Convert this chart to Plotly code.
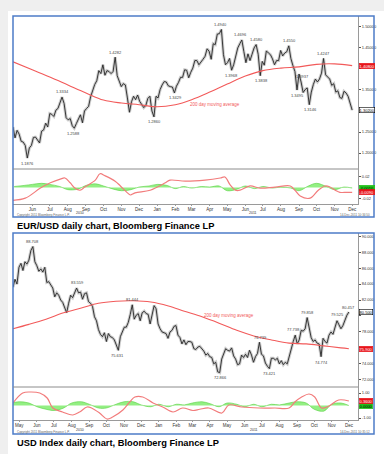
import pandas as pd
import plotly.graph_objects as go

W, H = 384, 454
def fx(p): return p / W
def fy(p): return 1 - p / H

# ---------------- EUR/USD (semi-weekly closes, May 13 2010 -> Dec 15 2011) -------------
eur_close = [
    1.262, 1.236, 1.254, 1.245, 1.228, 1.226,                          # May 10
    1.218, 1.188, 1.212, 1.218, 1.237, 1.238, 1.231, 1.224,            # Jun 10
    1.252, 1.255, 1.271, 1.262, 1.294, 1.292, 1.287, 1.302, 1.306,     # Jul 10
    1.318, 1.333, 1.318, 1.284, 1.279, 1.282, 1.265, 1.259, 1.270,     # Aug 10
    1.283, 1.291, 1.272, 1.300, 1.306, 1.311, 1.334, 1.349, 1.363,     # Sep 10
    1.372, 1.396, 1.389, 1.410, 1.385, 1.396, 1.394, 1.389, 1.394,     # Oct 10
    1.428, 1.384, 1.372, 1.358, 1.365, 1.362, 1.331, 1.297,            # Nov 10
    1.322, 1.335, 1.327, 1.338, 1.323, 1.315, 1.308, 1.313, 1.330,     # Dec 10
    1.335, 1.300, 1.286, 1.335, 1.331, 1.351, 1.362, 1.370, 1.369,     # Jan 11
    1.360, 1.358, 1.357, 1.343, 1.359, 1.368, 1.380, 1.380,            # Feb 11
    1.398, 1.397, 1.379, 1.392, 1.402, 1.420, 1.420, 1.410, 1.418,     # Mar 11
    1.423, 1.430, 1.448, 1.442, 1.423, 1.460, 1.458, 1.483,            # Apr 11
    1.484, 1.494, 1.434, 1.410, 1.415, 1.425, 1.397, 1.410, 1.430,     # May 11
    1.450, 1.460, 1.469, 1.441, 1.415, 1.436, 1.420, 1.435, 1.450,     # Jun 11
    1.458, 1.435, 1.384, 1.418, 1.409, 1.443, 1.438, 1.434, 1.424,     # Jul 11
    1.410, 1.420, 1.420, 1.444, 1.431, 1.438, 1.441, 1.455,            # Aug 11
    1.425, 1.408, 1.394, 1.350, 1.388, 1.369, 1.344, 1.351, 1.355,     # Sep 11
    1.315, 1.345, 1.363, 1.376, 1.369, 1.376, 1.390, 1.425, 1.386,     # Oct 11
    1.380, 1.376, 1.361, 1.365, 1.345, 1.348, 1.332, 1.330,            # Nov 11
    1.347, 1.343, 1.335, 1.316, 1.302,                                 # Dec 11
]
eur_start, eur_end = "2010-05-13", "2011-12-15"

eur_ma_dates = ["2010-05-13", "2010-06-15", "2010-07-15", "2010-08-15", "2010-09-15",
                "2010-10-15", "2010-11-15", "2010-12-15", "2011-01-15", "2011-02-15",
                "2011-03-15", "2011-04-15", "2011-05-15", "2011-06-15", "2011-07-15",
                "2011-08-15", "2011-09-15", "2011-10-15", "2011-11-15", "2011-12-15"]
eur_ma = [1.417, 1.398, 1.381, 1.362, 1.343, 1.326, 1.319, 1.315, 1.310, 1.315,
          1.327, 1.345, 1.364, 1.383, 1.396, 1.402, 1.405, 1.411, 1.412, 1.408]

eur_osc_dates = ["2010-05-13", "2010-06-03", "2010-06-29", "2010-07-16", "2010-08-02",
                 "2010-08-10", "2010-08-19", "2010-08-27", "2010-09-05", "2010-09-13",
                 "2010-10-01", "2010-10-09", "2010-10-18", "2010-11-04", "2010-11-13",
                 "2010-11-25", "2010-11-30", "2010-12-08", "2011-01-03", "2011-01-29",
                 "2011-02-06", "2011-03-04", "2011-04-07", "2011-05-03", "2011-05-11",
                 "2011-05-20", "2011-05-29", "2011-06-06", "2011-06-23", "2011-07-10",
                 "2011-08-05", "2011-08-31", "2011-09-08", "2011-09-17", "2011-10-04",
                 "2011-10-18", "2011-10-30", "2011-11-07", "2011-11-16", "2011-11-24",
                 "2011-12-06", "2011-12-15"]
eur_osc = [-0.024, -0.020, -0.001, 0.009, 0.016, 0.018, 0.009, -0.001, -0.005, 0.001,
           0.014, 0.026, 0.022, 0.012, 0.003, -0.010, -0.014, -0.010, -0.005, 0.009,
           0.014, 0.012, 0.014, 0.018, 0.020, 0.005, -0.005, -0.005, 0.003, -0.001,
           0.001, 0.003, -0.005, -0.016, -0.020, -0.005, 0.003, 0.001, -0.005, -0.009,
           -0.009, -0.009]
# semi-monthly histogram (1st & 15th), May 15 2010 -> Dec 15 2011
eur_hist = [0.002, 0.004, 0.006, 0.008, 0.006, 0.002, -0.004, -0.003, 0.004, 0.007,
            0.003, -0.003, -0.006, -0.004, 0.001, 0.003, 0.006, 0.004, -0.002, 0.002,
            -0.001, 0.002, 0.001, 0.003, -0.006, -0.003, 0.003, -0.002, 0.002, -0.001,
            0.001, -0.001, -0.006, 0.003, 0.008, 0.002, -0.004, 0.001, -0.001]

eur_lbl_dates = ["2010-06-07", "2010-08-06", "2010-08-24", "2010-11-04", "2011-01-10",
                 "2011-02-15", "2011-05-04", "2011-05-23", "2011-06-07", "2011-07-04",
                 "2011-07-12", "2011-08-29", "2011-09-21", "2011-09-12", "2011-10-04",
                 "2011-10-27"]
eur_lbl_text = ["1.1876", "1.3334", "1.2588", "1.4282", "1.2860", "1.3429", "1.4940",
                "1.3968", "1.4696", "1.4580", "1.3838", "1.4550", "1.3937", "1.3495",
                "1.3146", "1.4247"]
eur_lbl_pos = ["below", "above", "below", "above", "below", "below", "above", "below",
               "above", "above", "below", "above", "below", "below", "below", "above"]

eur_ticks = [1.20, 1.25, 1.30, 1.35, 1.40, 1.45, 1.50]

# ---------------- USD Index (semi-weekly closes, May 4 2010 -> Dec 15 2011) -------------
usd_close = [
    83.6, 84.6, 84.0, 86.1, 86.6, 85.7, 86.8, 86.5,                    # May 10
    87.0, 88.2, 88.7, 86.8, 86.3, 85.6, 85.9, 85.5, 86.1,              # Jun 10
    84.2, 84.3, 83.9, 83.5, 82.4, 82.9, 82.6, 82.0, 81.7,              # Jul 10
    80.9, 80.4, 81.6, 82.6, 82.3, 83.0, 83.5, 82.9, 83.0,              # Aug 10
    82.1, 82.8, 82.9, 81.8, 81.6, 81.2, 79.9, 79.4,                    # Sep 10
    78.3, 77.7, 77.4, 77.9, 76.8, 77.8, 77.4, 77.3, 77.0,              # Oct 10
    76.4, 75.7, 77.4, 77.9, 78.6, 78.6, 79.2, 80.2, 81.4,              # Nov 10
    79.6, 80.1, 80.3, 79.4, 80.4, 80.6, 80.3, 80.2, 79.0,              # Dec 10
    80.3, 81.3, 80.9, 79.0, 78.4, 78.0, 77.9, 77.8,                    # Jan 11
    77.2, 78.0, 78.2, 78.7, 78.8, 77.6, 77.3, 76.5,                    # Feb 11
    77.0, 76.4, 76.8, 76.8, 76.7, 75.9, 75.8, 76.1, 76.2,              # Mar 11
    75.9, 75.6, 75.1, 75.3, 74.9, 74.8, 74.0, 74.2, 73.0,              # Apr 11
    72.9, 74.6, 75.2, 75.9, 75.7, 75.6, 76.0, 75.0, 74.6,              # May 11
    73.9, 74.0, 75.1, 74.8, 75.2, 74.8, 75.7, 75.1,                    # Jun 11
    74.2, 74.9, 75.3, 76.7, 75.2, 75.0, 74.1, 73.7, 73.4,              # Jul 11
    74.7, 74.7, 74.5, 74.7, 74.0, 74.4, 73.9, 74.2, 74.0,              # Aug 11
    75.0, 75.9, 76.8, 77.6, 76.5, 77.0, 78.2, 78.1, 78.4,              # Sep 11
    79.8, 78.6, 77.3, 76.8, 77.0, 76.6, 76.5, 74.9,                    # Oct 11
    77.2, 76.8, 76.6, 77.6, 78.0, 77.7, 78.6, 79.4, 78.9,              # Nov 11
    78.4, 78.8, 79.5, 80.1, 80.5,                                      # Dec 11
]
usd_start, usd_end = "2010-05-04", "2011-12-15"

usd_ma_dates = ["2010-05-04", "2010-06-01", "2010-07-01", "2010-08-01", "2010-09-01",
                "2010-10-01", "2010-11-01", "2010-12-01", "2011-01-01", "2011-02-01",
                "2011-03-01", "2011-04-01", "2011-05-01", "2011-06-01", "2011-07-01",
                "2011-08-01", "2011-09-01", "2011-10-01", "2011-11-01", "2011-12-01",
                "2011-12-15"]
usd_ma = [78.4, 78.95, 79.6, 80.4, 81.0, 81.6, 81.85, 81.9, 81.75, 81.25,
          80.6, 79.9, 79.1, 78.2, 77.5, 77.0, 76.6, 76.5, 76.25, 76.0, 75.9]

usd_osc_dates = ["2010-05-04", "2010-05-21", "2010-06-03", "2010-06-20", "2010-07-03",
                 "2010-07-13", "2010-07-30", "2010-08-17", "2010-08-29", "2010-09-11",
                 "2010-09-19", "2010-10-03", "2010-10-16", "2010-10-26", "2010-11-13",
                 "2010-11-25", "2010-12-04", "2010-12-18", "2011-01-05", "2011-01-22",
                 "2011-02-09", "2011-02-26", "2011-03-16", "2011-03-28", "2011-04-13",
                 "2011-05-06", "2011-05-18", "2011-06-10", "2011-07-10", "2011-08-07",
                 "2011-09-01", "2011-09-11", "2011-09-23", "2011-10-06", "2011-10-16",
                 "2011-10-28", "2011-11-10", "2011-11-27", "2011-12-15"]
usd_osc = [0.2, 1.0, 1.08, 1.0, 0.6, -0.2, -0.52, -0.76, -0.52, -0.12,
           -0.2, -0.6, -1.08, -0.92, -0.36, 0.28, 0.68, 0.68, 0.2, -0.12,
           -0.52, -0.2, -0.4, -0.3, -0.2, -0.6, 0.04, -0.12, -0.2, -0.2,
           -0.2, 0.28, 0.68, 0.92, 0.68, -0.2, -0.04, 0.44, 0.36]
# semi-monthly histogram (1st & 15th), May 1 2010 -> Dec 15 2011
usd_hist = [0.2, 0.3, 0.2, -0.1, -0.3, -0.4, -0.2, 0.2, 0.3, 0.1,
            -0.2, -0.2, 0.1, 0.3, 0.3, 0.05, -0.1, 0.1, -0.1, 0.1,
            0.05, 0.2, 0.3, 0.15, -0.1, 0.2, 0.1, -0.1, 0.1, -0.1,
            0.1, 0.05, 0.2, 0.3, 0.2, -0.3, -0.45, 0.1, 0.2, 0.0]

usd_lbl_dates = ["2010-06-07", "2010-08-25", "2010-11-04", "2010-11-30", "2011-05-04",
                 "2011-07-12", "2011-07-29", "2011-09-08", "2011-10-04", "2011-10-28",
                 "2011-11-25", "2011-12-15"]
usd_lbl_text = ["88.708", "83.559", "75.631", "81.444", "72.866", "76.739", "73.421",
                "77.738", "79.858", "74.774", "79.525", "80.457"]
usd_lbl_pos = ["above", "above", "below", "above", "below", "above", "below", "above",
               "above", "below", "above", "above"]

usd_ticks = [72, 74, 76, 78, 80, 82, 84, 86, 88, 90]

month_names = ["Jan", "Feb", "Mar", "Apr", "May", "Jun", "Jul", "Aug", "Sep", "Oct", "Nov", "Dec"]

# ------------------------------------------------------------------------------------------
eur_dates = pd.date_range(eur_start, eur_end, periods=len(eur_close))
usd_dates = pd.date_range(usd_start, usd_end, periods=len(usd_close))
eur_hist_dates = pd.date_range("2010-05-15", "2011-12-15", freq="SMS")[:len(eur_hist)]
usd_hist_dates = pd.date_range("2010-05-01", "2011-12-15", freq="SMS")[:len(usd_hist)]

FONT = "Liberation Sans, Arial, sans-serif"
PINK = "#f27c7c"
MA_RED = "#f25a5a"
GREEN_FILL = "rgba(120,235,100,0.8)"
GREEN_LINE = "#58d040"

fig = go.Figure()

def add_panel(dates, close, ma_d, ma, osc_d, osc, hist_d, hist, xa, ya, yb):
    fig.add_trace(go.Scatter(x=dates, y=close, mode="lines", xaxis=xa, yaxis=ya,
                             line=dict(color="rgba(90,90,90,0.3)", width=3), hoverinfo="skip"))
    fig.add_trace(go.Scatter(x=dates, y=close, mode="lines", xaxis=xa, yaxis=ya,
                             line=dict(color="#262626", width=0.9)))
    fig.add_trace(go.Scatter(x=ma_d, y=ma, mode="lines", xaxis=xa, yaxis=ya,
                             line=dict(color=MA_RED, width=1.1, shape="spline")))
    fig.add_trace(go.Scatter(x=hist_d, y=hist, mode="lines", xaxis=xa, yaxis=yb,
                             fill="tozeroy", fillcolor=GREEN_FILL,
                             line=dict(color=GREEN_LINE, width=0.6, shape="spline")))
    fig.add_trace(go.Scatter(x=osc_d, y=osc, mode="lines", xaxis=xa, yaxis=yb,
                             line=dict(color=PINK, width=1.2, shape="spline")))

add_panel(eur_dates, eur_close, eur_ma_dates, eur_ma, eur_osc_dates, eur_osc,
          eur_hist_dates, eur_hist, "x", "y", "y2")
add_panel(usd_dates, usd_close, usd_ma_dates, usd_ma, usd_osc_dates, usd_osc,
          usd_hist_dates, usd_hist, "x2", "y3", "y4")

def month_ticks(start, end):
    ms = pd.date_range(start, end, freq="MS")
    vals = [m + pd.Timedelta(days=14) for m in ms]
    return vals, [month_names[m.month - 1] for m in ms]

tv1, tt1 = month_ticks("2010-06-01", "2011-12-01")
tv2, tt2 = month_ticks("2010-05-01", "2011-12-01")

def tick_text(ticks, fmt, covered, tol):
    # the value boxes on the right axis hide the tick labels underneath them
    return [("" if any(abs(t - c) < tol for c in covered) else fmt.format(t)) for t in ticks]

AX = "#9a9a9a"
xcommon = dict(type="date", showgrid=False, zeroline=False, showline=True, linecolor=AX,
               linewidth=1, ticks="outside", ticklen=1, tickcolor=AX,
               tickfont=dict(size=4.5, color="#333", family=FONT))
ycommon = dict(side="right", showgrid=False, zeroline=False, showline=True, linecolor=AX,
               linewidth=1, ticks="outside", ticklen=2, tickcolor="#555",
               tickfont=dict(size=4, color="#333", family=FONT))

fig.update_layout(
    width=W, height=H, autosize=False, showlegend=False,
    margin=dict(l=0, r=0, t=0, b=0),
    paper_bgcolor="#efefef", plot_bgcolor="rgba(0,0,0,0)",
    xaxis=dict(domain=[fx(13), fx(358)], anchor="y2", range=["2010-05-13", "2011-12-25"],
               tickvals=tv1, ticktext=tt1, **xcommon),
    yaxis=dict(domain=[fy(169), fy(16)], anchor="x", range=[1.162, 1.526],
               tickvals=eur_ticks,
               ticktext=tick_text(eur_ticks, "{:.5f}", [eur_ma[-1], eur_close[-1]], 0.012),
               **ycommon),
    yaxis2=dict(domain=[fy(204), fy(169)], anchor="x", range=[-0.031, 0.035],
                tickvals=[0.02, -0.02], ticktext=["0.02", "-0.02"], **ycommon),
    xaxis2=dict(domain=[fx(13), fx(358)], anchor="y4", range=["2010-05-04", "2011-12-31"],
                tickvals=tv2, ticktext=tt2, **xcommon),
    yaxis3=dict(domain=[fy(387), fy(233)], anchor="x2", range=[71.1, 90.4],
                tickvals=usd_ticks,
                ticktext=tick_text(usd_ticks, "{:.3f}", [usd_ma[-1], usd_close[-1]], 0.6),
                **ycommon),
    yaxis4=dict(domain=[fy(420), fy(387)], anchor="x2", range=[-1.16, 1.48],
                tickvals=[1, -1], ticktext=["1.00", "-1.00"], **ycommon),
)

shapes = []
# white card
shapes.append(dict(type="rect", xref="paper", yref="paper", x0=fx(8), x1=1, y0=0, y1=fy(11),
                   fillcolor="white", line=dict(width=0), layer="below"))
BLUE = "#4d7cc7"
for top, bot, sep in [(16, 217, 169), (233, 434, 387)]:
    shapes.append(dict(type="rect", xref="paper", yref="paper", x0=fx(13), x1=fx(374),
                       y0=fy(bot), y1=fy(top), line=dict(color=BLUE, width=1.5)))
    shapes.append(dict(type="line", xref="paper", yref="paper", x0=fx(13), x1=fx(358),
                       y0=fy(sep), y1=fy(sep), line=dict(color="#8c8c8c", width=1)))
fig.update_layout(shapes=shapes)

ann = []
def lbls(dates, texts, pos, xr, yr):
    for d, t, p in zip(dates, texts, pos):
        ann.append(dict(x=d, y=float(t), xref=xr, yref=yr, text=t, showarrow=False,
                        yshift=5 if p == "above" else -5,
                        font=dict(size=4, color="#444", family=FONT)))
lbls(eur_lbl_dates, eur_lbl_text, eur_lbl_pos, "x", "y")
lbls(usd_lbl_dates, usd_lbl_text, usd_lbl_pos, "x2", "y3")

def box(val, fmt, yr, bg, fg, border):
    ann.append(dict(x=fx(359), xref="paper", xanchor="left", y=val, yref=yr,
                    text=fmt.format(val), showarrow=False, bgcolor=bg, bordercolor=border,
                    borderwidth=0.6, borderpad=0, font=dict(size=4, color=fg, family=FONT)))
box(eur_ma[-1], "{:.5f}", "y", "#e8151b", "white", "#e8151b")
box(eur_close[-1], "{:.5f}", "y", "white", "black", "black")
box(eur_hist[-1], "{:.4f}", "y2", "#22c01a", "black", "#22c01a")
box(eur_osc[-1], "{:.4f}", "y2", "#e8151b", "white", "#e8151b")
box(usd_ma[-1], "{:.3f}", "y3", "#e8151b", "white", "#e8151b")
box(usd_close[-1], "{:.3f}", "y3", "white", "black", "black")
box(usd_hist[-1], "{:.4f}", "y4", "#22c01a", "black", "#22c01a")
box(usd_osc[-1], "{:.4f}", "y4", "#e8151b", "white", "#e8151b")

def ptext(x, y, t, size, color="#333", anchor="left", bold=False):
    ann.append(dict(x=fx(x), y=fy(y), xref="paper", yref="paper", text=f"<b>{t}</b>" if bold else t,
                    showarrow=False, xanchor=anchor, yanchor="middle",
                    font=dict(size=size, color=color, family=FONT)))

ptext(188, 104, "200 day moving average", 4.5, MA_RED)
ptext(202, 315, "200 day moving average", 4.5, MA_RED)
ptext(80, 213.5, "2010", 3.5, anchor="center")
ptext(253, 213.5, "2011", 3.5, anchor="center")
ptext(80, 430, "2010", 3.5, anchor="center")
ptext(254, 430, "2011", 3.5, anchor="center")
ptext(15, 215, "Copyright 2011 Bloomberg Finance L.P.", 3, "#666")
ptext(15, 432, "Copyright 2011 Bloomberg Finance L.P.", 3, "#666")
ptext(372, 215, "14-Dec-2011 10:34:50", 3, "#666", anchor="right")
ptext(372, 432, "14-Dec-2011 10:35:12", 3, "#666", anchor="right")
ptext(15, 226, "EUR/USD daily chart, Bloomberg Finance LP", 9.3, "black", bold=True)
ptext(15, 443, "USD Index daily chart, Bloomberg Finance LP", 9.3, "black", bold=True)

fig.update_layout(annotations=ann)
fig.write_html("out.html", config={"displayModeBar": False},
               post_script="document.body.style.margin='0';document.body.style.overflow='hidden';")
